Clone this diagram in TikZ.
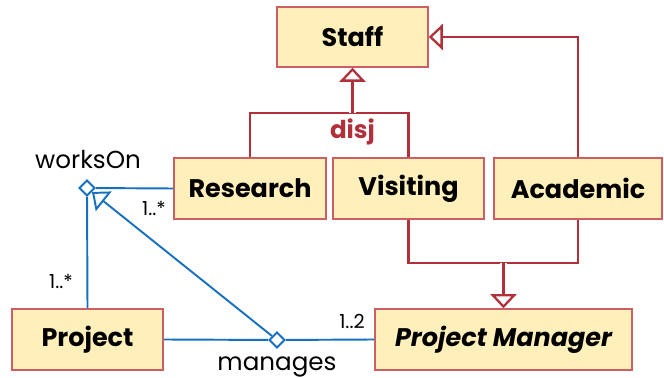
\documentclass[tikz,border=0pt]{standalone}
\usepackage{fontspec}
\setmainfont{Poppins}
\usetikzlibrary{calc, arrows.meta, positioning, shapes.geometric}

\definecolor{genRed}{RGB}{178,48,58}
\definecolor{boxEdge}{RGB}{205,95,100}
\definecolor{boxFill}{RGB}{255,240,187}
\definecolor{assocBlue}{RGB}{22,112,192}

\tikzset{
  classBox/.style={draw=boxEdge, fill=boxFill, line width=0.9pt, inner sep=0pt,
    font=\bfseries\fontsize{14.5}{16}\selectfont},
  genLine/.style={draw=genRed, line width=1.3pt},
  genArrow/.style={genLine, -{Triangle[open, width=0.52cm, length=0.28cm, fill=white]}},
  whiteHalo/.style={preaction={draw=white, line width=4pt, shorten >=0.4cm}},
  assocLine/.style={draw=assocBlue, line width=1.1pt},
  assocArrow/.style={assocLine, -{Triangle[open, width=0.5cm, length=0.3cm, fill=white]}},
  assocDiamond/.style={diamond, draw=assocBlue, fill=white, line width=1.1pt,
    inner sep=0pt, minimum size=0.32cm},
  roleLabel/.style={inner sep=0pt, font=\fontsize{14}{16}\selectfont},
  multLabel/.style={inner sep=0pt, font=\fontsize{11}{13}\selectfont},
}

\begin{document}
\begin{tikzpicture}[x=0.02cm, y=-0.02cm]
\useasboundingbox (0,0) rectangle (664,378);

%classes
\node[classBox, minimum width=3.02cm, minimum height=1.2cm] (staff) at (352.5,37) {Staff};
\node[classBox, minimum width=3.04cm, minimum height=1.22cm] (research) at (250,188.5) {Research};
\node[classBox, minimum width=3.02cm, minimum height=1.22cm] (visiting) at (408.5,188.5) {Visiting};
\node[classBox, minimum width=3.36cm, minimum height=1.22cm] (academic) at (578,188.5) {Academic};
\node[classBox, minimum width=3.02cm, minimum height=1.22cm] (project) at (87.5,339.5) {Project};
\node[classBox, minimum width=5.14cm, minimum height=1.22cm] (manager) at (503.5,339.5) {\itshape Project Manager};

%generalisations
\coordinate (disjJoin) at (352.5,113);
\coordinate (pmJoin) at (503.5,263);
\draw[genLine] (research.north) |- (disjJoin) -| (visiting.north);
\draw[genArrow, whiteHalo] (disjJoin) -- (staff.south);
\node[inner sep=0pt, text=genRed, font=\bfseries\fontsize{14}{16}\selectfont] (disj) at (352.5,132) {disj};
\draw[genArrow] (academic.north) |- (staff.east);
\draw[genLine] (visiting.south) |- (pmJoin) -| (academic.south);
\draw[genArrow, whiteHalo] (pmJoin) -- (manager.north);

%associations
\node[assocDiamond] (worksOn) at (87,188) {};
\node[assocDiamond] (manages) at (277,340) {};
\draw[assocLine] (worksOn) -- (research.west);
\draw[assocLine] (worksOn) -- (project.north);
\draw[assocLine] (project.east) -- (manages) -- (manager.west);
\draw[assocArrow] (manages) -- (worksOn);

%labels
\node[roleLabel, anchor=base] (worksOnTxt) at (88,169) {worksOn};
\node[roleLabel, anchor=base] (managesTxt) at (277,371) {manages};
\node[multLabel] (multResearch) at (154,208) {1..*};
\node[multLabel] (multProject) at (61,281) {1..*};
\node[multLabel] (multManager) at (352,321) {1..2};

\end{tikzpicture}
\end{document}
